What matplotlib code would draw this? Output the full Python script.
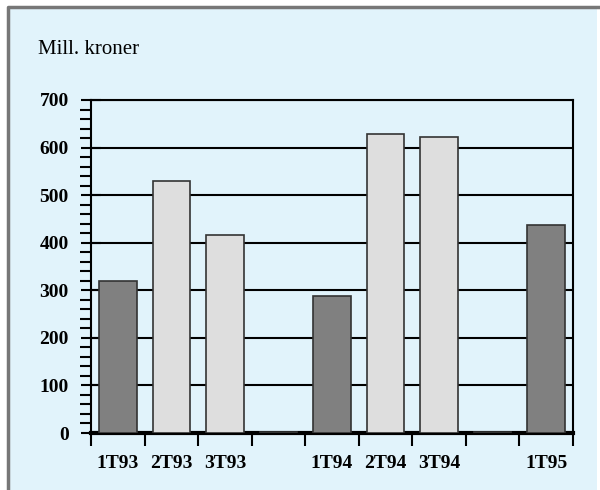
import numpy as np
import matplotlib.pyplot as plt
from matplotlib import patches
from matplotlib.lines import Line2D

labels = ['1T93', '2T93', '3T93', '', '1T94', '2T94', '3T94', '', '1T95']
values = [320, 530, 417, 2, 288, 628, 622, 2, 437]
colors = ['#808080', '#dedede', '#dedede', '#dedede', '#808080',
          '#dedede', '#dedede', '#dedede', '#808080']

bg = '#e1f3fb'
plt.rcParams['font.family'] = ['Liberation Serif', 'DejaVu Serif']

fig = plt.figure(figsize=(6, 4.9), dpi=100)
fig.patch.set_facecolor('white')
# light blue panel, grey frame on top and left
fig.patches.append(patches.Rectangle((8/600, 0), 589/600, 1 - 7/490,
                                     transform=fig.transFigure, facecolor=bg,
                                     edgecolor='none', zorder=-1))
fig.lines.append(Line2D([8/600, 8/600, 1], [0, 1 - 7/490, 1 - 7/490],
                        transform=fig.transFigure, color='#777777', linewidth=2.5))

ax = fig.add_axes([91/600, 1 - 433/490, 482/600, 333/490])
ax.set_facecolor(bg)

x = np.arange(len(values))
ax.bar(x, values, width=0.7, color=colors, edgecolor='#333333', linewidth=1.2, zorder=3)

ax.set_xlim(-0.5, len(values) - 0.5)
ax.set_ylim(0, 700)

ax.set_yticks(np.arange(0, 701, 100))
ax.set_yticks(np.arange(0, 701, 20), minor=True)
ax.yaxis.grid(True, color='black', linewidth=1.5, zorder=1)
ax.tick_params(axis='y', which='major', length=14, width=1.5, direction='inout',
               labelsize=14, pad=9)
ax.tick_params(axis='y', which='minor', length=8, width=1.5, direction='out')
for t in ax.get_yticklabels():
    t.set_fontweight('bold')

# x ticks at slot boundaries, labels centred in slots
ax.set_xticks(np.arange(-0.5, len(values), 1.0))
ax.set_xticklabels([])
ax.set_xticks(x, minor=True)
ax.set_xticklabels(labels, minor=True, fontsize=14, fontweight='bold')
ax.tick_params(axis='x', which='major', length=9, width=1.5, direction='out')
ax.tick_params(axis='x', which='minor', length=0, pad=16)

for s in ['left', 'right', 'top']:
    ax.spines[s].set_linewidth(1.5)
ax.spines['bottom'].set_linewidth(3)
ax.set_axisbelow(True)

fig.text(38/600, 1 - 50/490, 'Mill. kroner', fontsize=15, va='center', ha='left')

fig.savefig('out.png', dpi=100, facecolor='white')
